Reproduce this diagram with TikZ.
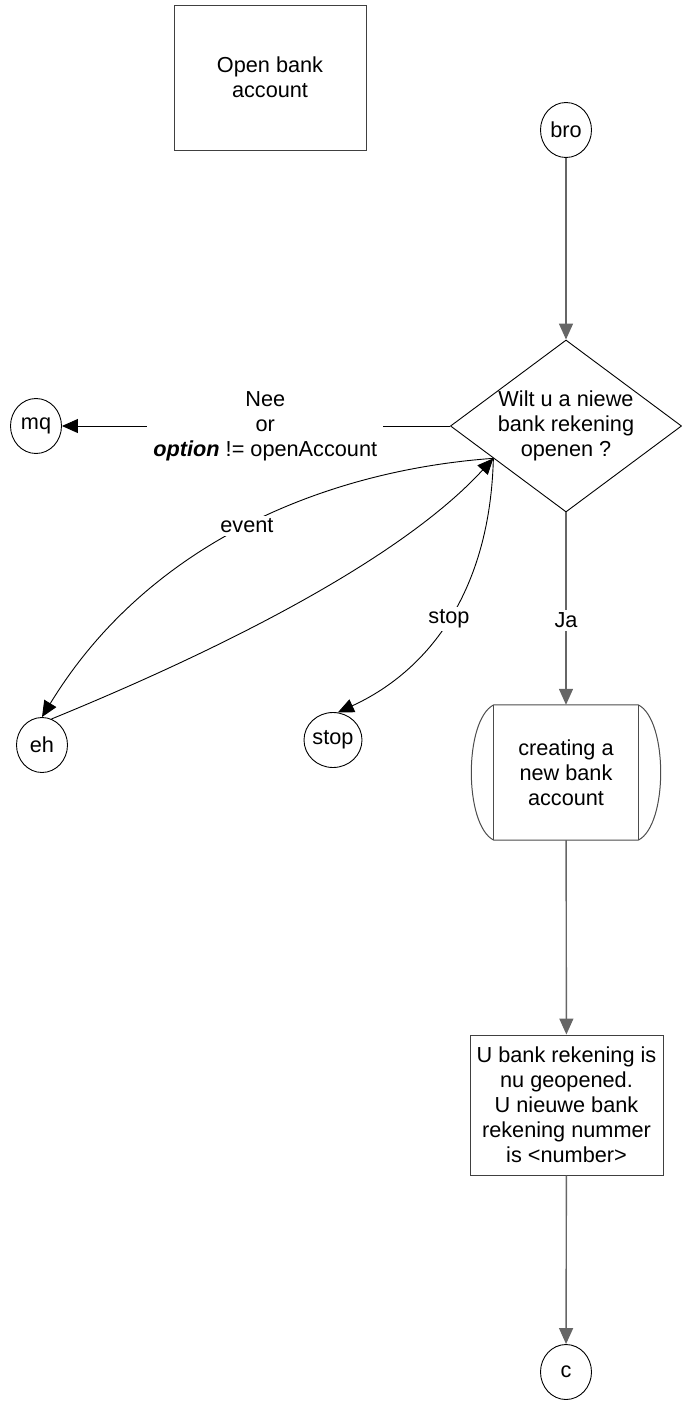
\documentclass[tikz,border=0pt]{standalone}
\usepackage{fontspec}
\setmainfont{Liberation Sans}
\usetikzlibrary{shapes.geometric,arrows.meta}
\begin{document}
\begin{tikzpicture}[x=1pt,y=-1pt,
  every node/.style={font=\fontsize{21.7}{25}\selectfont, align=center},
  circ/.style={draw=black, line width=0.9pt, ellipse, minimum width=51, minimum height=55, inner sep=0},
  box/.style={draw=black!75, line width=1pt, rectangle, inner sep=0},
  flow/.style={draw=black!60, line width=1.4pt, -{Triangle[length=16pt,width=14pt]}},
  link/.style={draw=black, line width=0.9pt, -{Triangle[length=16pt,width=14pt]}},
  lbl/.style={fill=white, inner sep=3pt}
]
\useasboundingbox (0,0) rectangle (681,1411);

% title
\node[box, minimum width=192, minimum height=145] (title) at (270,77.5) {Open bank\\account};

% start, decision and side exits
\node[circ] (bro) at (566,130) {bro};
\node[draw=black, line width=0.9pt, diamond, aspect=1.35, minimum width=230, minimum height=172, inner sep=0] (dec) at (566,426) {Wilt u a niewe\\bank rekening\\openen ?};
\node[circ] (mq) at (36,426) {mq};
\node[circ] (eh) at (42,745) {eh};
\node[circ] (stopn) at (333,740) {stop};

% predefined process
\node[minimum width=144, minimum height=135, inner sep=0] (proc) at (566,772.5) {creating a\\new bank\\account};
\draw[black!70, line width=1pt] (proc.north west) -- (proc.north east)
  .. controls +(30,15) and +(30,-15) .. (proc.south east) -- (proc.south west)
  .. controls +(-30,-15) and +(-30,15) .. (proc.north west);
\draw[black!70, line width=1pt] (proc.north west) -- (proc.south west);
\draw[black!70, line width=1pt] (proc.north east) -- (proc.south east);

% message
\node[box, minimum width=193, minimum height=140] (msg) at (566.5,1105) {U bank rekening is\\nu geopened.\\U nieuwe bank\\rekening nummer\\is <number>};
\node[circ] (c) at (566,1372) {c};

% main flow
\draw[flow] (bro) -- (dec);
\draw[flow] (dec) -- node[lbl, pos=0.56] {Ja} (proc);
\draw[flow] (proc) -- (msg);
\draw[flow] (msg) -- (c);

% side connectors
\draw[link] (dec) -- node[lbl, inner sep=6pt, pos=0.476] {Nee\\or\\\textbf{\textit{option}} != openAccount} (mq);
\draw[link] (dec.204) .. controls (330,470) and (150,540) .. node[lbl, pos=0.5] {event} (eh.north);
\draw[link] (eh.70) .. controls (220,650) and (400,560) .. (dec.204);
\draw[link] (dec.204) .. controls (490,590) and (430,670) .. node[lbl, pos=0.5] {stop} (stopn.80);
\end{tikzpicture}
\end{document}
